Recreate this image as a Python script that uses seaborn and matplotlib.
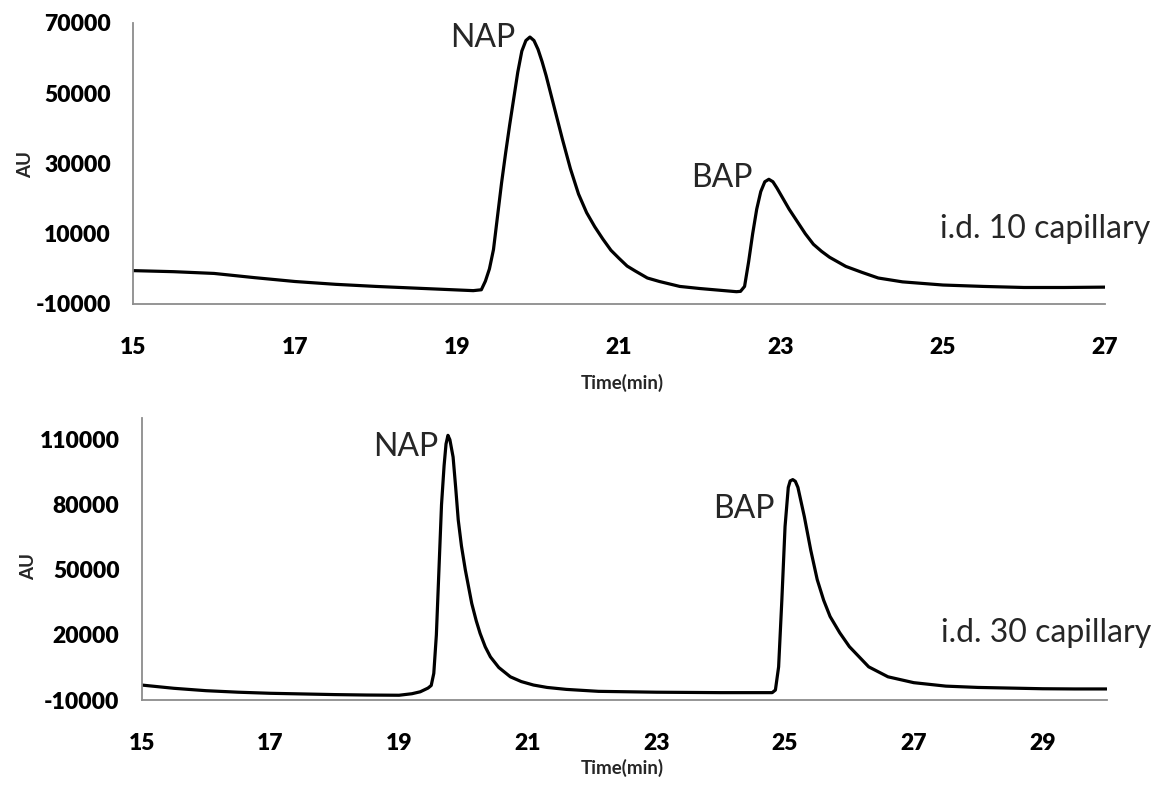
import numpy as np
import pandas as pd
import matplotlib
matplotlib.use("Agg")
import matplotlib.pyplot as plt
import seaborn as sns

# values
top_time = [15.0, 15.5, 16.0, 16.5, 17.0, 17.5, 18.0, 18.5, 19.0, 19.2, 19.3, 19.35, 19.4,
            19.45, 19.5, 19.55, 19.6, 19.65, 19.7, 19.75, 19.8, 19.85, 19.9, 19.95, 20.0,
            20.05, 20.1, 20.2, 20.3, 20.4, 20.5, 20.6, 20.7, 20.8, 20.9, 21.0, 21.1, 21.2,
            21.35, 21.5, 21.75, 22.0, 22.25, 22.45, 22.5, 22.55, 22.6, 22.65, 22.7, 22.75,
            22.8, 22.85, 22.9, 22.95, 23.0, 23.1, 23.2, 23.3, 23.4, 23.5, 23.6, 23.8, 24.0,
            24.2, 24.5, 25.0, 25.5, 26.0, 26.5, 27.0]
top_au = [-500, -800, -1300, -2500, -3600, -4400, -5000, -5500, -6000, -6200, -5950, -3500, 0,
          5500, 15000, 24500, 33000, 41000, 48500, 56000, 62000, 65000, 66000, 65000, 62500,
          59000, 55000, 46000, 37000, 28500, 21300, 16000, 12000, 8500, 5300, 3000, 800, -600,
          -2600, -3600, -5000, -5600, -6100, -6500, -6400, -5000, 2000, 10000, 17000, 22000,
          24800, 25500, 24800, 23000, 21000, 17000, 13500, 10000, 7000, 5000, 3300, 700, -1000,
          -2600, -3700, -4600, -5000, -5300, -5300, -5200]

bot_time = [15.0, 15.5, 16.0, 16.5, 17.0, 17.5, 18.0, 18.5, 19.0, 19.2, 19.33, 19.45, 19.5,
            19.54, 19.58, 19.62, 19.66, 19.7, 19.73, 19.76, 19.79, 19.84, 19.88, 19.92, 19.97,
            20.03, 20.13, 20.2, 20.26, 20.34, 20.42, 20.55, 20.73, 20.9, 21.09, 21.3, 21.6,
            22.1, 23.0, 24.0, 24.8, 24.85, 24.9, 24.95, 25.0, 25.05, 25.08, 25.12, 25.16, 25.2,
            25.3, 25.4, 25.5, 25.6, 25.7, 25.85, 26.0, 26.3, 26.6, 27.0, 27.5, 28.0, 28.5,
            29.0, 29.5, 30.0]
bot_au = [-3100, -4600, -5700, -6400, -6900, -7200, -7500, -7700, -7800, -7100, -6200, -4500, -3300,
          2300, 20000, 50000, 80000, 98000, 108000, 112000, 110000, 102000, 88000, 73000, 61000,
          50000, 34500, 26500, 20700, 14500, 9900, 5000, 700, -1500, -3100, -4200, -5100,
          -6000, -6400, -6600, -6600, -5400, 5300, 36000, 70000, 88000, 91000, 91600, 90800, 88000,
          74500, 59000, 45500, 36000, 28500, 21000, 14600, 5300, 700, -2000, -3600, -4200, -4500,
          -4800, -4900, -4900]

top_xticks = [15, 17, 19, 21, 23, 25, 27]
top_yticks = [-10000, 10000, 30000, 50000, 70000]
bot_xticks = [15, 17, 19, 21, 23, 25, 27, 29]
bot_yticks = [-10000, 20000, 50000, 80000, 110000]

sns.set_style("white")
plt.rcParams['font.family'] = ['Lato', 'DejaVu Sans']
plt.rcParams['axes.unicode_minus'] = False

grey = '#8c8c8c'
tick_fs = 16.5
label_fs = 13.5
note_fs = 23

fig = plt.figure(figsize=(11.55, 7.9), dpi=100)
ax_top = fig.add_axes([0.1152, 0.6152, 0.8415, 0.3557])
ax_bot = fig.add_axes([0.1227, 0.1139, 0.8355, 0.3570])

df_top = pd.DataFrame({'time': top_time, 'au': top_au})
df_bot = pd.DataFrame({'time': bot_time, 'au': bot_au})

sns.lineplot(data=df_top, x='time', y='au', ax=ax_top, color='black', linewidth=2.3)
sns.lineplot(data=df_bot, x='time', y='au', ax=ax_bot, color='black', linewidth=2.3)

ax_top.set_xlim(15, 27)
ax_top.set_ylim(-10000, 70000)
ax_top.set_xticks(top_xticks)
ax_top.set_yticks(top_yticks)

ax_bot.set_xlim(15, 30)
ax_bot.set_ylim(-10000, 120000)
ax_bot.set_xticks(bot_xticks)
ax_bot.set_yticks(bot_yticks)

for ax in [ax_top, ax_bot]:
    ax.set_xlabel('')
    ax.set_ylabel('')
    for side in ['top', 'right']:
        ax.spines[side].set_visible(False)
    for side in ['left', 'bottom']:
        ax.spines[side].set_color(grey)
        ax.spines[side].set_linewidth(1.3)
    ax.tick_params(axis='both', direction='out', length=7, width=1.3, color=grey,
                   labelsize=tick_fs, labelcolor='black')
    ax.tick_params(axis='x', pad=17)
    ax.tick_params(axis='y', pad=9)
    for lab in ax.get_xticklabels() + ax.get_yticklabels():
        lab.set_fontweight(800)
    ax.set_facecolor('white')

# peak labels
ax_top.text(19.72, 65700, 'NAP', ha='right', va='center', fontsize=note_fs)
ax_top.text(22.65, 26000, 'BAP', ha='right', va='center', fontsize=note_fs)
ax_top.text(27.56, 11300, 'i.d. 10 capillary', ha='right', va='center', fontsize=note_fs, clip_on=False)

ax_bot.text(19.61, 106600, 'NAP', ha='right', va='center', fontsize=note_fs)
ax_bot.text(24.84, 78200, 'BAP', ha='right', va='center', fontsize=note_fs)
ax_bot.text(30.69, 20700, 'i.d. 30 capillary', ha='right', va='center', fontsize=note_fs, clip_on=False)

# axis titles
fig.text(622 / 1155, 1 - 383 / 790, 'Time(min)', ha='center', va='center', fontsize=label_fs, fontweight='bold')
fig.text(622 / 1155, 1 - 768 / 790, 'Time(min)', ha='center', va='center', fontsize=label_fs, fontweight='bold')
fig.text(26 / 1155, 1 - 165 / 790, 'AU', ha='center', va='center', rotation=90, fontsize=label_fs, fontweight='bold')
fig.text(29 / 1155, 1 - 567 / 790, 'AU', ha='center', va='center', rotation=90, fontsize=label_fs, fontweight='bold')

fig.savefig('out.png', dpi=100, facecolor='white')
